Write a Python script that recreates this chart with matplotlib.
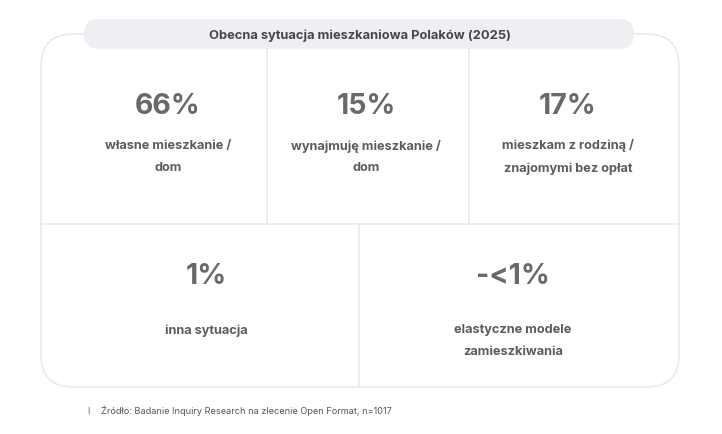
import matplotlib.pyplot as plt
from matplotlib.patches import FancyBboxPatch

plt.rcParams['font.family'] = ['Inter', 'DejaVu Sans']

title = "Obecna sytuacja mieszkaniowa Polaków (2025)"
top_values = ["66%", "15%", "17%"]
top_labels = ["własne mieszkanie /\ndom", "wynajmuję mieszkanie /\ndom", "mieszkam z rodziną /\nznajomymi bez opłat"]
bottom_values = ["1%", "-<1%"]
bottom_labels = ["inna sytuacja", "elastyczne modele\nzamieszkiwania"]
source = "Źródło: Badanie Inquiry Research na zlecenie Open Format, n=1017"

W, H = 722, 434
fig = plt.figure(figsize=(W / 100, H / 100), dpi=100)
ax = fig.add_axes([0, 0, 1, 1])
ax.set_xlim(0, W)
ax.set_ylim(H, 0)
ax.axis('off')

line_col = '#e8e8e6'
text_col = '#5c5c5c'
num_col = '#696969'

# outer card
box = FancyBboxPatch((41 + 32, 34 + 32), 638 - 64, 353 - 64,
                     boxstyle="round,pad=32", fc='white', ec=line_col, lw=1.1)
ax.add_patch(box)

# title pill
pill = FancyBboxPatch((84 + 15, 19 + 15), 550 - 30, 0.01,
                      boxstyle="round,pad=15", fc='#efeef2', ec='none')
ax.add_patch(pill)
ax.text(360, 36, title, ha='center', va='center', fontsize=9.3,
        fontweight='bold', color='#474747')

# grid lines
ax.plot([41, 679], [224, 224], color=line_col, lw=1.1)
for x in [267, 469]:
    ax.plot([x, x], [49, 224], color=line_col, lw=1.1)
ax.plot([359, 359], [224, 387], color=line_col, lw=1.1)

# top row
for cx, v, lab in zip([168, 366, 568], top_values, top_labels):
    ax.text(cx, 106, v, ha='center', va='center', fontsize=20.5,
            fontweight='bold', color=num_col)
    ax.text(cx, 157, lab, ha='center', va='center', fontsize=9.2,
            fontweight='bold', color=text_col, linespacing=2.1)

# bottom row
ax.text(206, 277, bottom_values[0], ha='center', va='center', fontsize=20.5,
        fontweight='bold', color=num_col)
ax.text(206, 331, bottom_labels[0], ha='center', va='center', fontsize=9.2,
        fontweight='bold', color=text_col)
ax.text(513, 277, bottom_values[1], ha='center', va='center', fontsize=20.5,
        fontweight='bold', color=num_col)
ax.text(513, 341, bottom_labels[1], ha='center', va='center', fontsize=9.2,
        fontweight='bold', color=text_col, linespacing=2.1)

# source
ax.text(87, 411, "I", ha='left', va='center', fontsize=6.6, color='#666666')
ax.text(101, 411, source, ha='left', va='center', fontsize=6.6, color='#555555')

fig.savefig('out.png', dpi=100, facecolor='white')
